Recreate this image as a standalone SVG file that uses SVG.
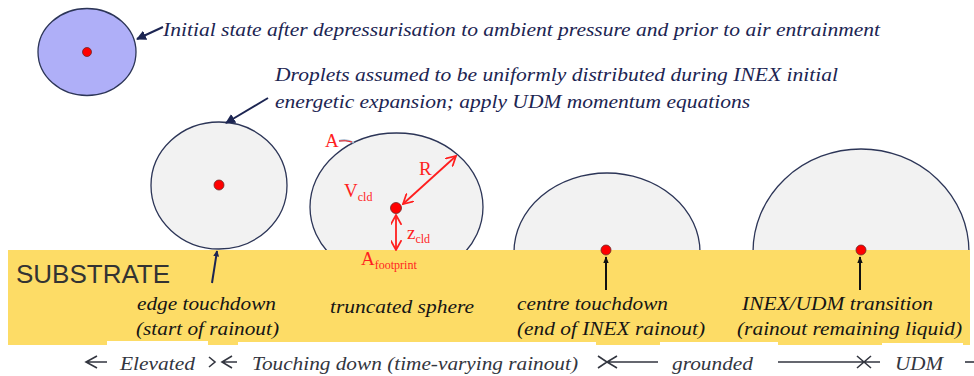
<svg xmlns="http://www.w3.org/2000/svg" width="974" height="376" viewBox="0 0 974 376">
<style>
.note{font-family:"Liberation Serif",serif;font-style:italic;font-size:19px;fill:#1c2552}
.lbl{font-family:"Liberation Serif",serif;font-style:italic;font-size:19px;fill:#151515}
.bot{font-family:"Liberation Serif",serif;font-style:italic;font-size:19px;fill:#333640}
.red{font-family:"Liberation Serif",serif;font-size:19px;fill:#ff1f1f}
.sub{font-size:12px}
.cloud{fill:#f2f2f2;stroke:#2c3557;stroke-width:1.3}
.dot{fill:#ff0000;stroke:#6b2a2a;stroke-width:0.8}
.navy{stroke:#1c2552;stroke-width:2;fill:none}
.blk{stroke:#111;stroke-width:2;fill:none}
.rl{stroke:#ff1f1f;stroke-width:1.8;fill:none}
.gl{stroke:#333640;stroke-width:1.6;fill:none}
</style>
<defs>
<clipPath id="above"><rect x="0" y="0" width="974" height="252"/></clipPath>
<marker id="mNavy" viewBox="0 0 10 10" refX="9" refY="5" markerWidth="6" markerHeight="6" orient="auto" markerUnits="userSpaceOnUse">
<path d="M0,0 L10,5 L0,10 z" fill="#1c2552"/>
</marker>
<marker id="mNavyB" viewBox="0 0 10 10" refX="9" refY="5" markerWidth="10" markerHeight="10" orient="auto" markerUnits="userSpaceOnUse">
<path d="M0,0 L10,5 L0,10 z" fill="#1c2552"/>
</marker>
<marker id="mBlk" viewBox="0 0 10 10" refX="9" refY="5" markerWidth="7" markerHeight="7" orient="auto" markerUnits="userSpaceOnUse">
<path d="M0,1 L10,5 L0,9 z" fill="#111"/>
</marker>
<marker id="mRed" viewBox="0 0 10 10" refX="9" refY="5" markerWidth="11" markerHeight="11" orient="auto-start-reverse" markerUnits="userSpaceOnUse">
<path d="M0,0 L9,5 L0,10" fill="none" stroke="#ff1f1f" stroke-width="1.6"/>
</marker>
</defs>

<g id="initial">
<ellipse cx="87" cy="52" rx="49" ry="43.5" fill="#afaff8" stroke="#2c3557" stroke-width="1.3"/>
<circle class="dot" cx="87" cy="52" r="4.5"/>
</g>

<g id="elevated">
<ellipse class="cloud" cx="219" cy="185.5" rx="68" ry="63.5"/>
<circle class="dot" cx="219" cy="185" r="5"/>
</g>

<g id="truncated" clip-path="url(#above)">
<ellipse class="cloud" cx="396.5" cy="207" rx="86.5" ry="74"/>
</g>

<g id="centre" clip-path="url(#above)">
<ellipse class="cloud" cx="607" cy="252" rx="93" ry="79"/>
</g>

<g id="transition" clip-path="url(#above)">
<ellipse class="cloud" cx="861" cy="252" rx="108" ry="103"/>
</g>

<g id="substrate">
<rect x="8" y="250" width="962" height="95" fill="#fddc66"/>
<rect x="107" y="341" width="101" height="35" fill="#fff"/>
<rect x="238" y="342" width="358" height="34" fill="#fff"/>
<rect x="660" y="342" width="118" height="34" fill="#fff"/>
<rect x="882" y="343" width="81" height="33" fill="#fff"/>
<text x="16" y="283" font-family="Liberation Sans, sans-serif" font-size="26" fill="#333">SUBSTRATE</text>
</g>

<g id="dots">
<circle class="dot" cx="396" cy="208" r="5.5"/>
<circle class="dot" cx="606" cy="250" r="5"/>
<circle class="dot" cx="861" cy="250" r="5"/>
</g>

<g id="connectors">
<line class="navy" x1="163" y1="27" x2="137" y2="39" marker-end="url(#mNavyB)"/>
<line class="navy" x1="268" y1="98" x2="226" y2="123" marker-end="url(#mNavyB)"/>
<line class="navy" x1="212" y1="283" x2="217" y2="251" marker-end="url(#mNavy)"/>
<line class="blk" x1="606" y1="290" x2="606" y2="257" marker-end="url(#mBlk)"/>
<line class="blk" x1="860" y1="290" x2="860" y2="257" marker-end="url(#mBlk)"/>
<line class="rl" x1="403" y1="204" x2="456" y2="156" marker-start="url(#mRed)" marker-end="url(#mRed)"/>
<line class="rl" x1="396" y1="215" x2="396" y2="250" marker-start="url(#mRed)" marker-end="url(#mRed)"/>
<path d="M339,141 Q347,139 354,143" stroke="#9ab0c8" stroke-width="2" fill="none"/>
<path d="M339,141 Q346,140 352,142" stroke="#ff1f1f" stroke-width="1" fill="none"/>
<path class="gl" d="M97,356 L86,362 L97,368 M86,362 L107,362"/>
<path class="gl" d="M209,357 L215,362 L209,367 M232,356 L222,362 L232,368 M222,362 L237,362"/>
<path class="gl" d="M598,356 L607,362 L598,368 M617,356 L607,362 L617,368 M607,362 L658,362"/>
<path class="gl" d="M778,362 L880,362 M857,356 L871,368 M857,368 L871,356"/>
<path class="gl" d="M965,362 L974,362"/>
</g>

<g id="labels">
<text class="note" x="163" y="36" textLength="717" lengthAdjust="spacingAndGlyphs">Initial state after depressurisation to ambient pressure and prior to air entrainment</text>
<text class="note" x="275" y="81" textLength="563" lengthAdjust="spacingAndGlyphs">Droplets assumed to be uniformly distributed during INEX initial</text>
<text class="note" x="275" y="108" textLength="475" lengthAdjust="spacingAndGlyphs">energetic expansion; apply UDM momentum equations</text>
<text class="red" x="325" y="147">A</text>
<text class="red" x="419" y="175">R</text>
<text class="red" x="344" y="197">V<tspan class="sub" dy="4">cld</tspan></text>
<text class="red" x="407" y="239">z<tspan class="sub" dy="4">cld</tspan></text>
<text class="red" x="361" y="265">A<tspan class="sub" dy="4">footprint</tspan></text>
<text class="lbl" x="137" y="310" textLength="139" lengthAdjust="spacingAndGlyphs">edge touchdown</text>
<text class="lbl" x="136" y="335" textLength="143" lengthAdjust="spacingAndGlyphs">(start of rainout)</text>
<text class="lbl" x="330" y="313" textLength="144" lengthAdjust="spacingAndGlyphs">truncated sphere</text>
<text class="lbl" x="517" y="310" textLength="151" lengthAdjust="spacingAndGlyphs">centre touchdown</text>
<text class="lbl" x="517" y="335" textLength="188" lengthAdjust="spacingAndGlyphs">(end of INEX rainout)</text>
<text class="lbl" x="742" y="310" textLength="191" lengthAdjust="spacingAndGlyphs">INEX/UDM transition</text>
<text class="lbl" x="737" y="335" textLength="225" lengthAdjust="spacingAndGlyphs">(rainout remaining liquid)</text>
<text class="bot" x="120" y="370" textLength="75" lengthAdjust="spacingAndGlyphs">Elevated</text>
<text class="bot" x="252" y="370" textLength="326" lengthAdjust="spacingAndGlyphs">Touching down (time-varying rainout)</text>
<text class="bot" x="672" y="370" textLength="81" lengthAdjust="spacingAndGlyphs">grounded</text>
<text class="bot" x="895" y="370" textLength="48" lengthAdjust="spacingAndGlyphs">UDM</text>
</g>
</svg>
